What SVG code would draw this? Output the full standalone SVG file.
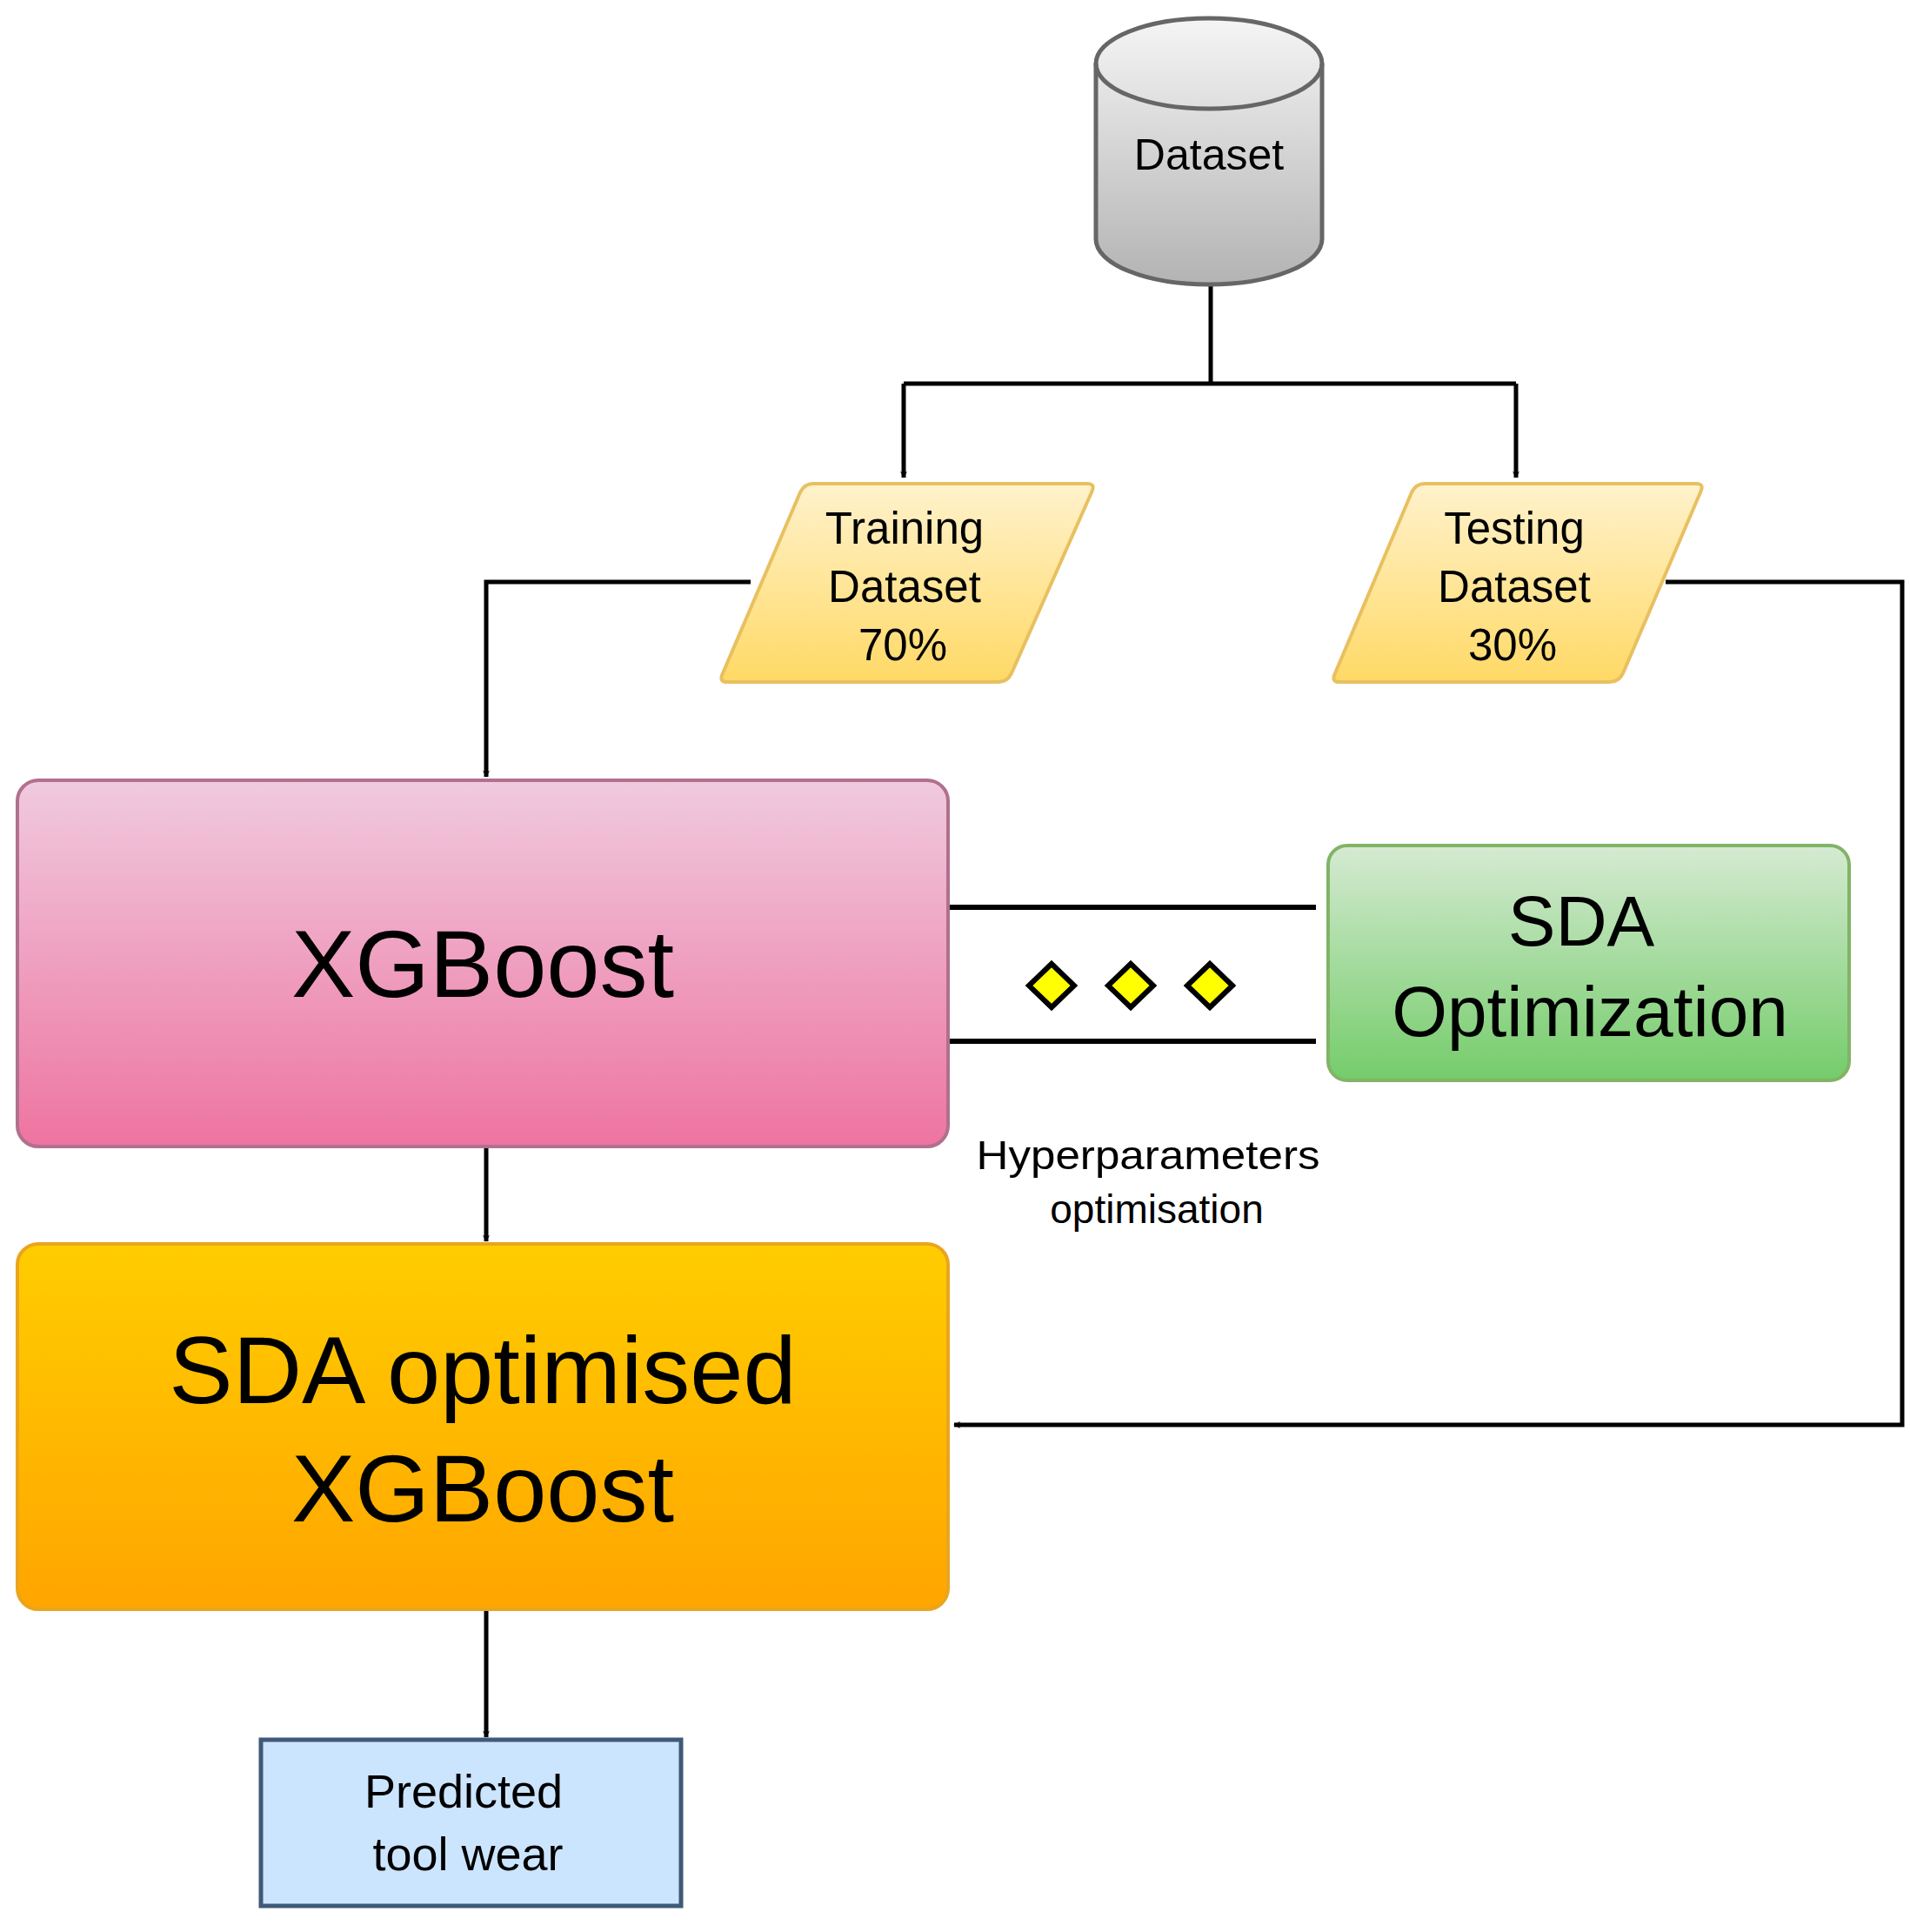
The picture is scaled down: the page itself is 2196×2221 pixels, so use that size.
<svg xmlns="http://www.w3.org/2000/svg" width="2196" height="2221" viewBox="0 0 2196 2221">
<defs>
<linearGradient id="gGray" x1="0" y1="0" x2="0" y2="1"><stop offset="0" stop-color="#f5f5f5"/><stop offset="1" stop-color="#b3b3b3"/></linearGradient>
<linearGradient id="gYel" x1="0" y1="0" x2="0" y2="1"><stop offset="0" stop-color="#fff2cc"/><stop offset="1" stop-color="#ffd966"/></linearGradient>
<linearGradient id="gPink" x1="0" y1="0" x2="0" y2="1"><stop offset="0" stop-color="#f0cade"/><stop offset="1" stop-color="#ee74a0"/></linearGradient>
<linearGradient id="gOr" x1="0" y1="0" x2="0" y2="1"><stop offset="0" stop-color="#ffcd00"/><stop offset="1" stop-color="#ffa500"/></linearGradient>
<linearGradient id="gGr" x1="0" y1="0" x2="0" y2="1"><stop offset="0" stop-color="#d5ead2"/><stop offset="1" stop-color="#74cc6a"/></linearGradient>
<marker id="arr" viewBox="0 0 10 10" refX="9" refY="5" markerWidth="8" markerHeight="8" markerUnits="userSpaceOnUse" orient="auto">
<path d="M0,0 L10,5 L0,10 L3,5 Z" fill="#000"/></marker>
</defs>
<style>
.t{font-family:"Liberation Sans",Arial,sans-serif;fill:#000;text-anchor:middle;dominant-baseline:central}
.c{fill:none;stroke:#000;stroke-width:5}
</style>
<rect width="2196" height="2221" fill="#fff"/>
<g id="connectors">
<path class="c" d="M1392,327 V441"/>
<path class="c" d="M1039,441 H1743"/>
<path class="c" d="M1039,441 V549" marker-end="url(#arr)" style="stroke-width:5"/>
<path class="c" d="M1743,441 V549" marker-end="url(#arr)"/>
<path class="c" d="M863,669 H559 V893" marker-end="url(#arr)"/>
<path class="c" d="M1915,669 H2187 V1638 H1097" marker-end="url(#arr)"/>
<path class="c" d="M559,1319 V1427" marker-end="url(#arr)"/>
<path class="c" d="M559,1850 V1997" marker-end="url(#arr)"/>
<path class="c" d="M1090,1043 H1513 M1090,1197 H1513" style="stroke-width:6"/>
</g>
<g id="dataset">
<path d="M1260,73 V275 A130,52 0 0 0 1520,275 V73 A130,52 0 0 0 1260,73 Z" fill="url(#gGray)" stroke="#666" stroke-width="5"/>
<path d="M1260,73 A130,52 0 0 0 1520,73" fill="none" stroke="#666" stroke-width="5"/>
<text class="t" x="1390" y="178" font-size="50">Dataset</text>
</g>
<g id="training">
<path d="M935,556 H1250 Q1260,556 1255,566 L1163,774 Q1158,784 1148,784 H836 Q826,784 831,774 L920,566 Q925,556 935,556 Z" fill="url(#gYel)" stroke="#e8c060" stroke-width="4"/>
<text class="t" x="1040" y="607" font-size="51">Training</text>
<text class="t" x="1040" y="674" font-size="51">Dataset</text>
<text class="t" x="1038" y="741" font-size="51">70%</text>
</g>
<g id="testing">
<path d="M1638,556 H1950 Q1960,556 1955,566 L1866,774 Q1861,784 1851,784 H1540 Q1530,784 1535,774 L1623,566 Q1628,556 1638,556 Z" fill="url(#gYel)" stroke="#e8c060" stroke-width="4"/>
<text class="t" x="1741" y="607" font-size="51">Testing</text>
<text class="t" x="1741" y="674" font-size="51">Dataset</text>
<text class="t" x="1739" y="741" font-size="51">30%</text>
</g>
<g id="xgboost">
<rect x="20" y="897" width="1070" height="421" rx="24" fill="url(#gPink)" stroke="#b0708e" stroke-width="4"/>
<text class="t" x="555" y="1107" font-size="110">XGBoost</text>
</g>
<g id="sda">
<rect x="1527" y="972" width="599" height="270" rx="22" fill="url(#gGr)" stroke="#82b366" stroke-width="4"/>
<text class="t" x="1818" y="1058" font-size="82">SDA</text>
<text class="t" x="1828" y="1162" font-size="82">Optimization</text>
</g>
<g id="dots">
<path d="M1209,1108 L1235,1133 L1209,1158 L1183,1133 Z M1300,1108 L1326,1133 L1300,1158 L1274,1133 Z M1391,1108 L1417,1133 L1391,1158 L1365,1133 Z" fill="#ffff00" stroke="#000" stroke-width="6"/>
</g>
<g id="hyperlabel">
<text class="t" x="1320" y="1328" font-size="46" textLength="395" lengthAdjust="spacingAndGlyphs">Hyperparameters</text>
<text class="t" x="1330" y="1390" font-size="46">optimisation</text>
</g>
<g id="sdaxgb">
<rect x="20" y="1430" width="1070" height="420" rx="24" fill="url(#gOr)" stroke="#eaa51e" stroke-width="4"/>
<text class="t" x="555" y="1574" font-size="110">SDA optimised</text>
<text class="t" x="555" y="1710" font-size="110">XGBoost</text>
</g>
<g id="predicted">
<rect x="300" y="2000" width="483" height="191" fill="#cce5ff" stroke="#3f5a78" stroke-width="5"/>
<text class="t" x="533" y="2059" font-size="54">Predicted</text>
<text class="t" x="538" y="2131" font-size="54">tool wear</text>
</g>
</svg>
